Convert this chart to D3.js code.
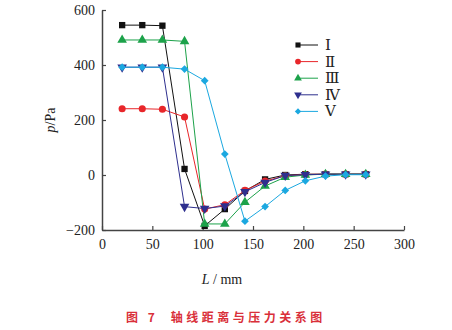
<!DOCTYPE html>
<html><head><meta charset="utf-8">
<script src="https://cdn.jsdelivr.net/npm/d3@7/dist/d3.min.js"></script>
<style>body{margin:0;background:#fff}svg{display:block}</style>
</head><body>
<svg id="c" width="452" height="330"></svg>
<script>
const xs = [20, 40, 60, 82, 102, 122, 142, 162, 182, 202, 222, 242, 262];
const seriesNames = ["Ⅰ", "Ⅱ", "Ⅲ", "Ⅳ", "Ⅴ"];
const s1 = [545, 545, 543, 22, -185, -124, -58, -16, 0, 3, 3, 3, 3];
const s2 = [241, 241, 239, 211, -124, -108, -56, -22, -3, 2, 3, 3, 3];
const s3 = [491, 491, 491, 486, -178, -178, -99, -40, -8, 0, 3, 3, 3];
const s4 = [392, 392, 392, -115, -122, -113, -61, -27, -2, 1, 3, 3, 3];
const s5 = [392, 392, 392, 385, 343, 76, -168, -115, -56, -21, -4, 1, 1];
const xTicks = [0, 50, 100, 150, 200, 250, 300];
const yTicks = [-200, 0, 200, 400, 600];
const colors = ["#111111", "#e8262a", "#1ca24a", "#2e2f8e", "#1ba8e0"];
const shapes = [d3.symbolSquare, d3.symbolCircle, d3.symbolTriangle, d3.symbolTriangle, d3.symbolSquare];
const rot = ["", "", "", " rotate(180)", " rotate(45)"];

const svg = d3.select("#c");
const x = d3.scaleLinear().domain([0, 300]).range([102, 404]);
const y = d3.scaleLinear().domain([-200, 600]).range([230, 10]);
const axisColor = "#444";
const font = "'Liberation Serif','DejaVu Serif',serif";

const xa = svg.append("g").attr("transform", "translate(0,230)")
  .call(d3.axisBottom(x).tickValues(xTicks).tickSizeInner(-4).tickSizeOuter(0).tickPadding(9));
const ya = svg.append("g").attr("transform", "translate(102,0)")
  .call(d3.axisLeft(y).tickValues(yTicks).tickSizeInner(-4).tickSizeOuter(0).tickPadding(7).tickFormat(d => d < 0 ? "−" + Math.abs(d) : d));
[xa, ya].forEach(a => {
  a.select(".domain").attr("stroke", axisColor).attr("stroke-width", 1.5);
  a.selectAll(".tick line").attr("stroke", axisColor).attr("stroke-width", 1.2);
  a.selectAll("text").attr("fill", "#222").style("font-family", font).style("font-size", "14px");
});
xa.selectAll("text").attr("dy", "0.71em");

const all = [s1, s2, s3, s4, s5];
const line = d3.line().x((d, i) => x(xs[i])).y(d => y(d));
all.forEach((s, k) => {
  svg.append("path").datum(s).attr("d", line).attr("fill", "none")
    .attr("stroke", colors[k]).attr("stroke-width", 1);
});
all.forEach((s, k) => {
  const sym = d3.symbol().type(shapes[k]).size(k === 4 ? 30 : 40);
  svg.append("g").selectAll("path").data(s).join("path")
    .attr("d", sym)
    .attr("transform", (d, i) => `translate(${x(xs[i])},${y(d)})` + rot[k])
    .attr("fill", colors[k]);
});

// legend
const lg = svg.append("g");
seriesNames.forEach((n, k) => {
  const yy = 45 + k * 16.6;
  lg.append("line").attr("x1", 297).attr("x2", 318).attr("y1", yy).attr("y2", yy)
    .attr("stroke", colors[k]).attr("stroke-width", 1);
  lg.append("path").attr("d", d3.symbol().type(shapes[k]).size(k === 4 ? 20 : 26))
    .attr("transform", `translate(298,${yy})` + rot[k]).attr("fill", colors[k]);
  lg.append("text").attr("x", 325).attr("y", yy + 5).text(n)
    .style("font-family", font).style("font-size", "15px").attr("fill", "#222");
});

// axis labels
svg.append("text").attr("transform", "translate(55,120) rotate(-90)").attr("text-anchor", "middle")
  .style("font-family", font).style("font-size", "14px").attr("fill", "#222")
  .html('<tspan font-style="italic">p</tspan>/Pa');
svg.append("text").attr("x", 222).attr("y", 284).attr("text-anchor", "middle")
  .style("font-family", font).style("font-size", "14px").attr("fill", "#222")
  .html('<tspan font-style="italic">L</tspan> / mm');

svg.append("text").attr("x", 126).attr("y", 322)
  .style("font-family", "'Noto Sans CJK SC',sans-serif").style("font-size", "12px")
  .style("font-weight", "bold").style("letter-spacing", "3.5px").attr("fill", "#d9303a")
  .attr("xml:space", "preserve")
  .text("图 7  轴线距离与压力关系图");
</script>
</body></html>
